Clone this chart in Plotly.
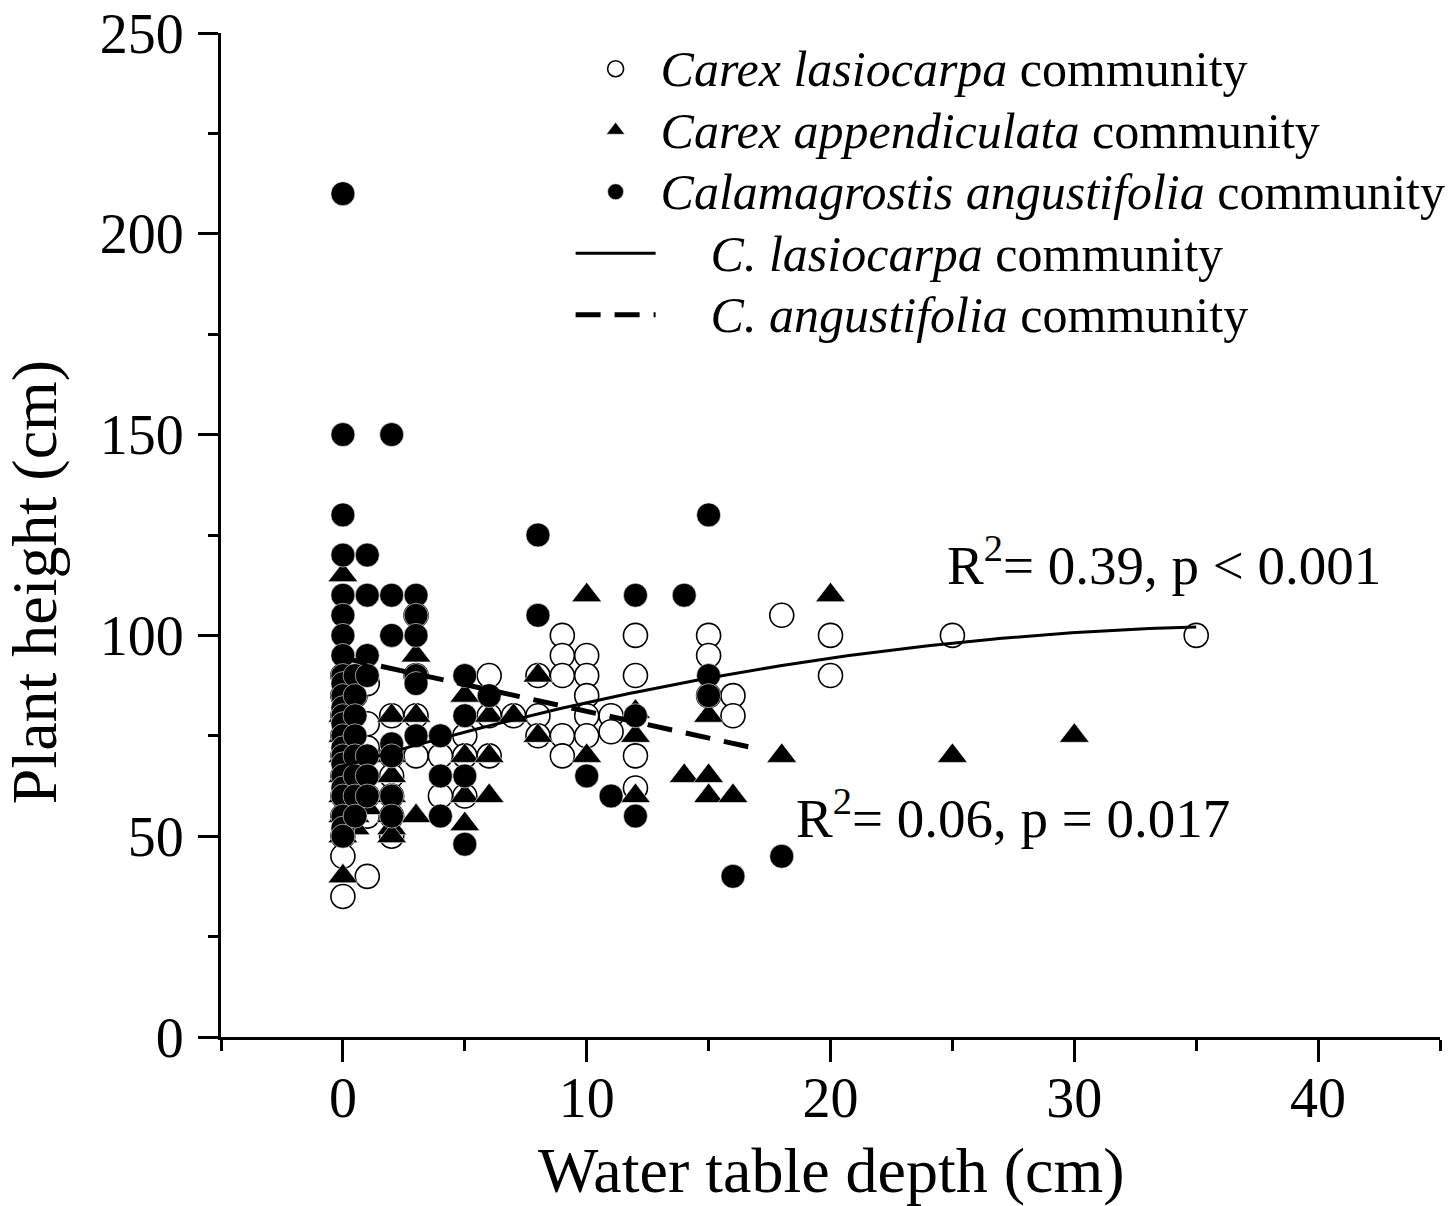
import numpy as np
import plotly.graph_objects as go

# ---------------- data ----------------
# Carex lasiocarpa community (open circles)
x_lasio = [0,0,0,0,0,0,0,0,0,0,0,
           0.5,0.5,0.5,0.5,0.5,
           1,1,1,1,1,1,
           2,2,2,2,2,2,
           3,3,3,3,
           4,4,5,5,5,6,6,6,7,8,8,8,
           9,9,9,9,9,10,10,10,10,10,11,11,
           12,12,12,12,15,15,15,16,16,18,20,20,25,35]
y_lasio = [90,85,80,75,70,65,60,55,50,45,35,
           85,75,65,60,55,
           88,78,72,60,55,40,
           80,70,65,60,55,50,
           105,90,80,70,
           70,60,75,70,60,90,80,70,80,90,80,75,
           100,95,90,75,70,95,90,85,80,75,80,76,
           100,90,70,62,100,95,85,85,80,105,100,90,100,100]

# Carex appendiculata community (filled triangles)
x_append = [0,0,0,0,0,0,0,0,0,
            0.5,0.5,0.5,0.5,0.5,
            1,1,1,1,
            2,2,2,2,2,2,2,
            3,3,3,
            5,5,5,5,6,6,6,7,8,8,
            10,10,12,12,12,14,15,15,15,16,18,20,25,30]
y_append = [115,80,75,70,65,60,55,50,40,
            70,65,60,55,52,
            70,65,60,57,
            80,70,65,60,55,52,50,
            95,80,55,
            85,70,60,53,80,70,60,80,90,75,
            110,70,81,75,60,65,80,65,60,60,70,110,70,75]

# Calamagrostis angustifolia community (filled circles)
x_calam = [0]*24 + [0.5]*8 + [1]*7 + [2]*7 + [3]*6 + \
          [4,4,4,5,5,5,5,6,8,8,10,11,12,12,12,14,15,15,15,16,18]
y_calam = [210,150,130,120,110,105,100,95,90,88,85,82,80,78,75,72,70,68,65,62,60,55,52,50,
           90,85,80,75,70,65,60,55,
           120,110,95,90,70,65,60,
           150,110,100,73,70,60,55,
           110,105,100,90,88,75,
           75,65,55,90,80,65,48,85,125,105,65,60,110,80,55,110,130,90,85,40,45]

# fitted curves (polynomial coefficients, highest power first) and x-extent
fit_lasio_coef = [-0.0236, 1.816, 67.45]
fit_lasio_range = [0, 35]
fit_calam_coef = [-1.33, 94.4]
fit_calam_range = [0, 17]

SP = '<span style="font-size:50px">'
NB = "&nbsp;" * 4
legend_names = [SP + "<i>Carex lasiocarpa</i> community</span>",
                SP + "<i>Carex appendiculata</i> community</span>",
                SP + "<i>Calamagrostis angustifolia</i> community</span>",
                SP + NB + "<i>C. lasiocarpa</i> community</span>",
                SP + NB + "<i>C. angustifolia</i> community</span>"]

x_ticks = [0, 10, 20, 30, 40]
y_ticks = [0, 50, 100, 150, 200, 250]

FONT = "Liberation Serif, Times New Roman, serif"

fig = go.Figure()
fig.add_trace(go.Scatter(x=x_lasio, y=y_lasio, mode="markers", name=legend_names[0],
                         marker=dict(symbol="circle", size=24, color="white",
                                     line=dict(color="black", width=1.6))))
fig.add_trace(go.Scatter(x=x_append, y=y_append, mode="markers", name=legend_names[1],
                         marker=dict(symbol="triangle-up", size=26, color="black",
                                     line=dict(color="white", width=0.6))))
fig.add_trace(go.Scatter(x=x_calam, y=y_calam, mode="markers", name=legend_names[2],
                         marker=dict(symbol="circle", size=24, color="black",
                                     line=dict(color="white", width=0.6))))

xl = np.linspace(fit_lasio_range[0], fit_lasio_range[1], 200)
fig.add_trace(go.Scatter(x=xl, y=np.polyval(fit_lasio_coef, xl), mode="lines",
                         name=legend_names[3], line=dict(color="black", width=3)))
xc = np.linspace(fit_calam_range[0], fit_calam_range[1], 100)
fig.add_trace(go.Scatter(x=xc, y=np.polyval(fit_calam_coef, xc), mode="lines",
                         name=legend_names[4],
                         line=dict(color="black", width=5, dash="25px,14px")))

fig.add_annotation(x=24.7, y=118.5, xref="x", yref="y", xanchor="left", yanchor="middle",
                   text="R<sup>2</sup>= 0.39, p < 0.001", showarrow=False,
                   font=dict(family=FONT, size=55, color="black"))
fig.add_annotation(x=18.5, y=55.3, xref="x", yref="y", xanchor="left", yanchor="middle",
                   text="R<sup>2</sup>= 0.06, p = 0.017", showarrow=False,
                   font=dict(family=FONT, size=55, color="black"))

# axis titles
fig.add_annotation(x=-0.1534, y=0.453, xref="paper", yref="paper", textangle=-90,
                   xanchor="center", yanchor="middle", showarrow=False,
                   text="Plant height (cm)", font=dict(family=FONT, size=64, color="black"))
fig.add_annotation(x=0.501, y=-0.1325, xref="paper", yref="paper",
                   xanchor="center", yanchor="middle", showarrow=False,
                   text="Water table depth (cm)", font=dict(family=FONT, size=64, color="black"))

# the page body adds an 8px margin: figure is sized/offset to compensate
fig.update_layout(
    width=1447, height=1198,
    margin=dict(l=213, r=15, t=25, b=169, autoexpand=False),
    paper_bgcolor="white", plot_bgcolor="white",
    font=dict(family=FONT, size=56, color="black"),
    showlegend=True,
    legend=dict(x=0.2868, y=1.0, xanchor="left", yanchor="top",
                font=dict(family=FONT, size=45, color="black"),
                bgcolor="rgba(0,0,0,0)", itemwidth=80, tracegroupgap=0),
    xaxis=dict(range=[-5, 45], tickvals=x_ticks, ticks="outside", ticklen=22, tickwidth=3,
               tickcolor="black", showline=True, linewidth=3, linecolor="black",
               showgrid=False, zeroline=False, mirror=False, automargin=False,
               ticklabelstandoff=-12, ticklabeloverflow="allow",
               minor=dict(dtick=5, tick0=-5, ticks="outside", ticklen=11, tickwidth=3,
                          tickcolor="black", showgrid=False),
               tickfont=dict(family=FONT, size=56)),
    yaxis=dict(range=[0, 250], tickvals=y_ticks, ticks="outside", ticklen=20, tickwidth=3,
               tickcolor="black", showline=True, linewidth=3, linecolor="black",
               showgrid=False, zeroline=False, mirror=False, ticklabelstandoff=3,
               automargin=False, ticklabeloverflow="allow",
               minor=dict(dtick=25, tick0=0, ticks="outside", ticklen=10, tickwidth=3,
                          tickcolor="black", showgrid=False),
               tickfont=dict(family=FONT, size=56)),
)

fig.write_html("out.html")
